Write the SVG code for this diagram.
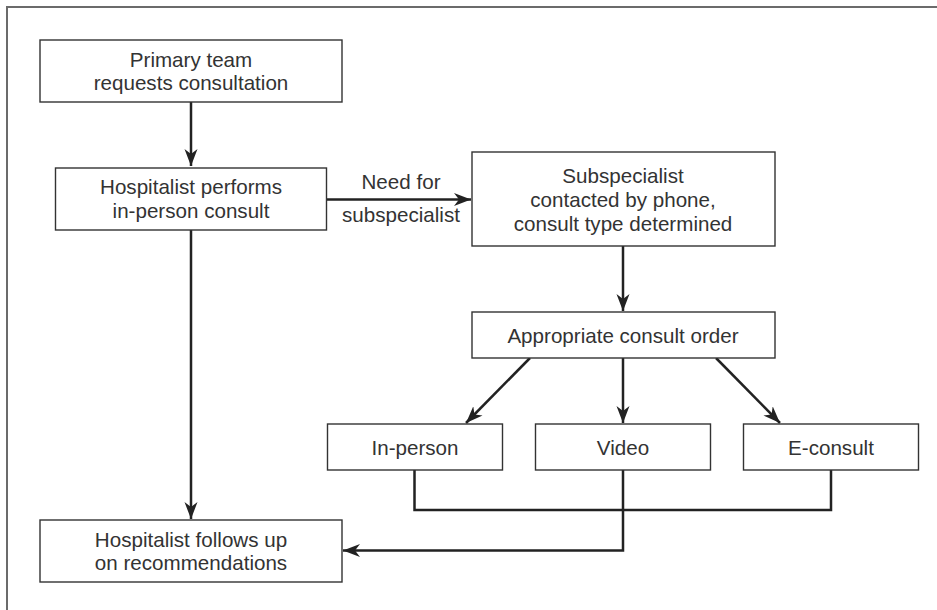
<svg xmlns="http://www.w3.org/2000/svg" width="937" height="610" viewBox="0 0 937 610">
<style>
.box{fill:#fff;stroke:#333;stroke-width:1.4}
.t{font-family:"Liberation Sans",Arial,sans-serif;font-size:20.6px;fill:#333;text-anchor:middle}
.c{fill:none;stroke:#222;stroke-width:2.5}
.frame{fill:none;stroke:#6b6b6b;stroke-width:2}
</style>
<defs>
<marker id="ah" markerUnits="userSpaceOnUse" markerWidth="18" markerHeight="14" refX="17" refY="7" orient="auto">
<path d="M0,0.5 L17,7 L0,13.5 L5,7 Z" fill="#222"/>
</marker>
</defs>
<rect width="937" height="610" fill="#fff"/>
<path class="frame" d="M7,610 V7 H937"/>
<g id="connectors">
<line class="c" x1="191" y1="102" x2="191" y2="166" marker-end="url(#ah)"/>
<line class="c" x1="326" y1="199.5" x2="471" y2="199.5" marker-end="url(#ah)"/>
<line class="c" x1="191" y1="230" x2="191" y2="519" marker-end="url(#ah)"/>
<line class="c" x1="623" y1="246" x2="623" y2="311" marker-end="url(#ah)"/>
<line class="c" x1="530" y1="358" x2="466" y2="423" marker-end="url(#ah)"/>
<line class="c" x1="623" y1="358" x2="623" y2="423" marker-end="url(#ah)"/>
<line class="c" x1="716" y1="358" x2="780" y2="423" marker-end="url(#ah)"/>
<path class="c" d="M414.5,470 V510 H831 V470"/>
<path class="c" d="M623,470 V550.5 H343" marker-end="url(#ah)"/>
<text class="t" x="401" y="189">Need for</text>
<text class="t" x="401" y="222">subspecialist</text>
</g>
<g id="n1">
<rect class="box" x="40" y="40" width="302" height="62"/>
<text class="t" x="191" y="67">Primary team</text>
<text class="t" x="191" y="90">requests consultation</text>
</g>
<g id="n2">
<rect class="box" x="55.5" y="168" width="271" height="62"/>
<text class="t" x="191" y="194">Hospitalist performs</text>
<text class="t" x="191" y="218">in-person consult</text>
</g>
<g id="n3">
<rect class="box" x="472" y="152" width="303" height="94"/>
<text class="t" x="623" y="182.5">Subspecialist</text>
<text class="t" x="623" y="206.5">contacted by phone,</text>
<text class="t" x="623" y="230.5">consult type determined</text>
</g>
<g id="n4">
<rect class="box" x="472" y="312" width="303" height="46"/>
<text class="t" x="623" y="343">Appropriate consult order</text>
</g>
<g id="n5">
<rect class="box" x="327.5" y="424" width="175" height="46"/>
<text class="t" x="415" y="455">In-person</text>
</g>
<g id="n6">
<rect class="box" x="535.5" y="424" width="175" height="46"/>
<text class="t" x="623" y="455">Video</text>
</g>
<g id="n7">
<rect class="box" x="743.5" y="424" width="175" height="46"/>
<text class="t" x="831" y="455">E-consult</text>
</g>
<g id="n8">
<rect class="box" x="40" y="520" width="302" height="62"/>
<text class="t" x="191" y="546.5">Hospitalist follows up</text>
<text class="t" x="191" y="570">on recommendations</text>
</g>
</svg>
